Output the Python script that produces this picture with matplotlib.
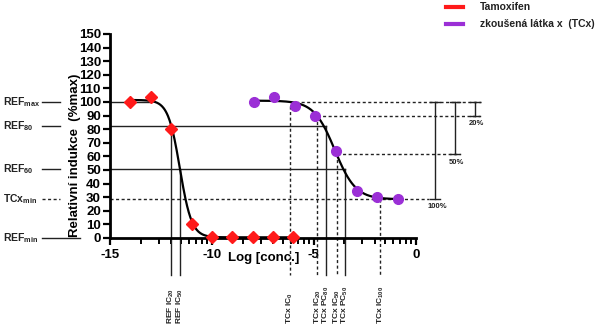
import numpy as np
import matplotlib
matplotlib.use("Agg")
import matplotlib.pyplot as plt

plt.rcParams['font.family'] = ['Liberation Sans', 'DejaVu Sans']
plt.rcParams['font.weight'] = 'bold'
plt.rcParams['mathtext.fontset'] = 'custom'
plt.rcParams['mathtext.rm'] = 'Liberation Sans:bold'
plt.rcParams['mathtext.bf'] = 'Liberation Sans:bold'
plt.rcParams['mathtext.it'] = 'Liberation Sans:bold'
plt.rcParams['mathtext.default'] = 'bf'

# ---------------- data ----------------
tam_x = [-14, -13, -12, -11, -10, -9, -8, -7, -6]
tam_y = [100, 103.5, 80, 10, 0.8, 0.5, 0.5, 0.5, 0.8]
tcx_x = [-7.95, -6.95, -5.93, -4.94, -3.9, -2.87, -1.88, -0.86]
tcx_y = [100, 103.5, 97.3, 90, 64, 34.8, 30.4, 28.9]

# fitted 4PL parameters (top, bottom, logIC50, hill)
tam_fit = (101.5, 0.5, -11.57, 1.5)
tcx_fit = (101.0, 28.5, -3.97, 0.85)

# reference levels
ref_max, ref_80, ref_50, tcx_min, ref_min = 100, 82.3, 51, 28.4, 0
tcx_top, tcx_20, tcx_50 = 100, 89.5, 61.5

# vertical marker positions (log conc.)
ref_ic20, ref_ic50 = -12.0, -11.57
tcx_ic0, tcx_ic20, tcx_pc80, tcx_ic50, tcx_pc50, tcx_ic100 = -6.17, -4.82, -4.39, -3.88, -3.45, -1.73

yticks = list(range(0, 151, 10))
xticks = [-15, -10, -5, 0]
xticklabels = ['-15', '-10', '-5', '0']

RED = '#FF1A1A'
PURPLE = '#9B2FD6'

def fourpl(x, p):
    top, bot, c, h = p
    return bot + (top - bot) / (1 + 10 ** ((x - c) * h))

W, H = 613, 327
fig = plt.figure(figsize=(W / 100, H / 100), dpi=100)
ax = fig.add_axes([110 / W, 1 - 238 / H, (415.7 - 110) / W, (238 - 34) / H])
ax.set_xlim(-15, 0)
ax.set_ylim(0, 150)
for s in ['top', 'right']:
    ax.spines[s].set_visible(False)
for s in ['left', 'bottom']:
    ax.spines[s].set_linewidth(2)
ax.set_yticks(yticks)
ax.set_xticks(xticks)
ax.set_xticklabels(xticklabels)
minor = []
for a in [-15, -10, -5]:
    for k in range(2, 10):
        minor.append(a + 5 * np.log10(k))
ax.set_xticks(minor, minor=True)
ax.tick_params(axis='both', which='major', direction='out', length=5, width=1.6,
               labelsize=9.5, pad=1.5)
ax.tick_params(axis='x', which='minor', direction='out', length=4, width=1.4)
ax.tick_params(axis='x', which='major', pad=3)
for lab in ax.get_xticklabels() + ax.get_yticklabels():
    lab.set_fontweight('bold')

lw_ref = 1.0
dot = (0, (2.2, 1.8))

# horizontal reference lines
ax.plot([-15, -13], [ref_max, ref_max], color='#222', lw=lw_ref)
ax.plot([-15, tcx_pc80], [ref_80, ref_80], color='#222', lw=lw_ref)
ax.plot([-15, tcx_pc50], [ref_50, ref_50], color='#222', lw=lw_ref)
ax.plot([-15, 0.65], [tcx_min, tcx_min], color='#222', lw=lw_ref, ls=dot, clip_on=False)
ax.plot([tcx_ic0, 3.22], [tcx_top, tcx_top], color='#222', lw=lw_ref, ls=dot, clip_on=False)
ax.plot([tcx_ic20, 3.17], [tcx_20, tcx_20], color='#222', lw=lw_ref, ls=dot, clip_on=False)
ax.plot([tcx_ic50, 2.18], [tcx_50, tcx_50], color='#222', lw=lw_ref, ls=dot, clip_on=False)

# left-side labels and short segments
lx0 = (43 - 110) / 20.2 - 15
lx1 = (60 - 110) / 20.2 - 15
left_items = [(r'REF$_{max}$', ref_max, '-', lx1),
              (r'REF$_{80}$', ref_80, '-', lx1),
              (r'REF$_{60}$', ref_50, '-', lx1),
              (r'TCx$_{min}$', tcx_min, dot, lx1),
              (r'REF$_{min}$', ref_min, '-', (80 - 110) / 20.2 - 15)]
for txt, yv, ls, xe in left_items:
    ax.plot([lx0, xe], [yv, yv], color='#222', lw=1.0, ls=ls, clip_on=False)
    ax.text((4 - 110) / 20.2 - 15, yv, txt, fontsize=7.5, fontweight='bold',
            ha='left', va='center', color='#222', clip_on=False)

# vertical lines down below axis
ybot = -27
ylab = (238 - 324) / 1.36
vlines = [(ref_ic20, ref_80, '-', r'REF IC$_{20}$'),
          (ref_ic50, ref_50, '-', r'REF IC$_{50}$'),
          (tcx_ic0, 97.3, dot, r'TCx IC$_{0}$'),
          (tcx_ic20, tcx_20, dot, r'TCx IC$_{20}$'),
          (tcx_pc80, ref_80, '-', r'TCx PC$_{80}$'),
          (tcx_ic50, tcx_50, dot, r'TCx IC$_{50}$'),
          (tcx_pc50, ref_50, '-', r'TCx PC$_{50}$'),
          (tcx_ic100, tcx_min, dot, r'TCx IC$_{100}$')]
for xv, ytop, ls, txt in vlines:
    ax.plot([xv, xv], [ytop, ybot], color='#222', lw=lw_ref, ls=ls, clip_on=False)
    ax.text(xv, ylab, txt, rotation=90, fontsize=6.0, fontweight='bold',
            ha='center', va='bottom', color='#222', clip_on=False)

# brackets
cap = 0.25
brackets = [(0.94, tcx_top, tcx_min, '100%', 1.05, 22.8),
            (1.91, tcx_top, tcx_50, '50%', 2.0, 55.5),
            (2.90, tcx_top, tcx_20, '20%', 3.0, 84.3)]
for bx, y1, y2, txt, tx, ty in brackets:
    ax.plot([bx, bx], [y1, y2], color='#222', lw=1.0, clip_on=False)
    ax.plot([bx - cap, bx + cap], [y1, y1], color='#222', lw=1.0, clip_on=False)
    ax.plot([bx - cap, bx + cap], [y2, y2], color='#222', lw=1.0, clip_on=False)
    ax.text(tx, ty, txt, fontsize=5.5, fontweight='bold', ha='center', va='center',
            color='#222', clip_on=False)

# fitted curves
xt = np.linspace(-14, -6, 300)
ax.plot(xt, fourpl(xt, tam_fit), color='black', lw=1.6, zorder=4)
xc = np.linspace(-8, -1, 300)
ax.plot(xc, fourpl(xc, tcx_fit), color='black', lw=1.6, zorder=4)

# points
ax.plot(tam_x, tam_y, ls='none', marker='D', ms=6, color=RED, mec=RED, zorder=5, clip_on=False)
ax.plot(tcx_x, tcx_y, ls='none', marker='o', ms=7, color=PURPLE, mec=PURPLE, zorder=5, clip_on=False)

# axis labels
ax.text((75 - 110) / 20.2 - 15, 61, 'Relativní indukce  (%max)', rotation=90,
        fontsize=9.5, fontweight='bold', ha='center', va='center', clip_on=False)
ax.text(-7.48, -15, 'Log [conc.]', fontsize=9.5, fontweight='bold',
        ha='center', va='center', clip_on=False)

# legend (manual)
def fx(p):
    return p / W
def fy(p):
    return 1 - p / H
fig.add_artist(plt.Line2D([fx(446), fx(463)], [fy(7), fy(7)], color=RED, lw=3,
                          transform=fig.transFigure))
fig.add_artist(plt.Line2D([fx(446), fx(463)], [fy(24), fy(24)], color=PURPLE, lw=3,
                          transform=fig.transFigure))
fig.text(fx(480), fy(7), 'Tamoxifen', fontsize=7.5, fontweight='bold',
         ha='left', va='center', color='#222')
fig.text(fx(480), fy(24), 'zkoušená látka x  (TCx)', fontsize=7.5, fontweight='bold',
         ha='left', va='center', color='#222')

fig.savefig('out.png', dpi=100)
